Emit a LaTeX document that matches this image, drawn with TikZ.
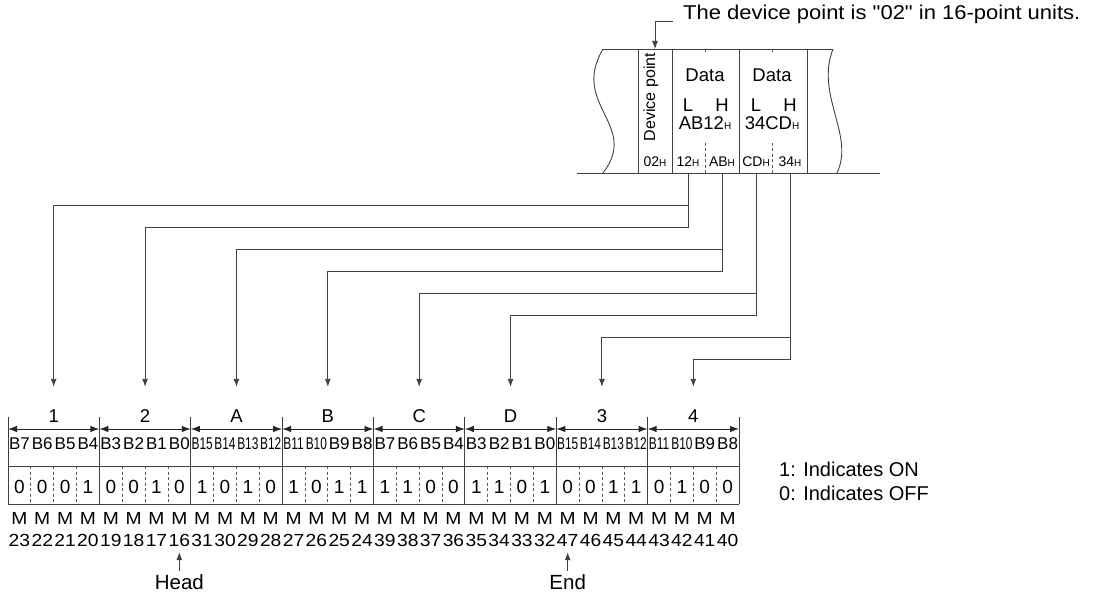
\documentclass[tikz,border=0pt]{standalone}
\usepackage{fontspec}
\usepackage{graphicx}
\setmainfont{Liberation Sans}
\newfontfamily\widefont[FakeStretch=1.1]{Liberation Sans}
\usetikzlibrary{arrows.meta,positioning}

% hex value with the small H suffix
\newcommand{\hx}[1]{#1{\fontsize{10}{10}\selectfont H}}
% narrow bit label (B15 ... B10)
\newcommand{\nb}[1]{\scalebox{0.7}[1]{#1}}

\tikzset{
  frame/.style={line width=0.9pt, black!75},
  link/.style={line width=0.9pt, black!75, -{Latex[length=8pt,width=6pt]}},
  span/.style={line width=0.9pt, black!85, {Latex[length=9pt,width=6.5pt]}-{Latex[length=9pt,width=6.5pt]}},
  sep/.style={line width=0.7pt, black!65, dash pattern=on 3pt off 2.5pt},
  txt/.style={inner sep=0pt, font=\fontsize{18.5}{18.5}\selectfont},
  small/.style={inner sep=0pt, font=\fontsize{14}{14}\selectfont},
  nib/.style={txt, text height=13pt, text depth=0pt},
  bitlab/.style={inner sep=0pt, font=\fontsize{17}{17}\selectfont},
  val/.style={inner sep=0pt, font=\fontsize{19}{19}\selectfont},
  mlab/.style={inner sep=0pt, font=\widefont\fontsize{17.5}{17.5}\selectfont, text height=12.5pt, text depth=0pt},
  mark text/.style={inner sep=0pt, font=\fontsize{20.5}{20.5}\selectfont},
}

\begin{document}
\begin{tikzpicture}[x=1pt, y=-1pt]

\useasboundingbox (0,0) rectangle (1094,593);

% upper table (memory image)
\draw[frame] (603,49) -- (833,49);
\draw[frame] (577,173) -- (880,173);
\draw[frame] (603,49) .. controls (570,105) and (640,125) .. (603,173);
\draw[frame] (833,49) .. controls (815,95) and (855,135) .. (837,173);
\draw[frame] (638,49) -- (638,173);
\draw[frame] (672,49) -- (672,173);
\draw[frame] (739,49) -- (739,173);
\draw[frame] (807,49) -- (807,173);
\draw[sep] (705,49) -- (705,54);
\draw[sep] (772,49) -- (772,54);
\draw[sep] (705,143) -- (705,173);
\draw[sep] (772,143) -- (772,173);

\coordinate (dptop) at (655,49);
\coordinate (rule) at (577,173);

\node[inner sep=0pt, rotate=90, font=\fontsize{16}{16}\selectfont] (devpt) at (651,97) {Device point};
\node[txt] (data1) at (705,75) {Data};
\node[txt] (data2) at (772,75) {Data};
\node[txt] (lo1) at (688,105) {L};
\node[txt] (hi1) at (722,105) {H};
\node[txt] (lo2) at (756,105) {L};
\node[txt] (hi2) at (790,105) {H};
\node[txt] (word1) at (705,123) {\hx{AB12}};
\node[txt] (word2) at (772,123) {\hx{34CD}};

\node[small] (c02) at (655,162) {\hx{02}};
\node[small] (c12) at (688,162) {\hx{12}};
\node[small] (cAB) at (722,162) {\hx{AB}};
\node[small] (cCD) at (756,162) {\hx{CD}};
\node[small] (c34) at (790,162) {\hx{34}};

\node[inner sep=0pt, anchor=base west, font=\widefont\fontsize{20}{20}\selectfont] (note) at (683,20) {The device point is "02" in 16-point units.};
\draw[link] ([xshift=-10pt, yshift=-1pt]note.base west) -| (dptop);

% lower table (bit devices)
\foreach \i in {0,...,8}
  \draw[frame] ({8+91.375*\i},417) -- ({8+91.375*\i},504);
\foreach \i in {0,...,7}
  \draw[span] ({8+91.375*\i},429) -- ({8+91.375*(\i+1)},429);
\draw[frame] (8,466) -- (739,466);
\draw[frame] (8,504) -- (739,504);
\foreach \k in {1,2,3,5,6,7,9,10,11,13,14,15,17,18,19,21,22,23,25,26,27,29,30,31}
  \draw[sep] ({8+22.84375*\k},466) -- ({8+22.84375*\k},504);

\foreach \lab [count=\i from 0] in {1,2,A,B,C,D,3,4}
  \node[nib] (n\lab) at ({8+91.375*(\i+0.5)},416) {\lab};

\foreach \bl/\v/\m [count=\k from 0] in {
    B7/0/23, B6/0/22, B5/0/21, B4/1/20,
    B3/0/19, B2/0/18, B1/1/17, B0/0/16,
    \nb{B15}/1/31, \nb{B14}/0/30, \nb{B13}/1/29, \nb{B12}/0/28,
    \nb{B11}/1/27, \nb{B10}/0/26, B9/1/25, B8/1/24,
    B7/1/39, B6/1/38, B5/0/37, B4/0/36,
    B3/1/35, B2/1/34, B1/0/33, B0/1/32,
    \nb{B15}/0/47, \nb{B14}/0/46, \nb{B13}/1/45, \nb{B12}/1/44,
    \nb{B11}/0/43, \nb{B10}/1/42, B9/0/41, B8/0/40} {
  \node[bitlab] (b\k) at ({8+22.84375*(\k+0.5)},444) {\bl};
  \node[val] (v\k) at ({8+22.84375*(\k+0.5)},487) {\v};
  \node[mlab] (m\k) at ({8+22.84375*(\k+0.5)},518) {M};
  \node[mlab] (mn\k) at ({8+22.84375*(\k+0.5)},540) {\m};
}

% byte data to bit groups
\draw[link, shorten >=22.5pt] (c12 |- rule) -- ++(0,32) -| (n1.north);
\draw[link, shorten >=22.5pt] (c12 |- rule) -- ++(0,54) -| (n2.north);
\draw[link, shorten >=22.5pt] (cAB |- rule) -- ++(0,76) -| (nA.north);
\draw[link, shorten >=22.5pt] (cAB |- rule) -- ++(0,98) -| (nB.north);
\draw[link, shorten >=22.5pt] (cCD |- rule) -- ++(0,120) -| (nC.north);
\draw[link, shorten >=22.5pt] (cCD |- rule) -- ++(0,142) -| (nD.north);
\draw[link, shorten >=22.5pt] (c34 |- rule) -- ++(0,164) -| (n3.north);
\draw[link, shorten >=22.5pt] (c34 |- rule) -- ++(0,186) -| (n4.north);

\node[mark text, below=28pt of mn7] (head) {Head};
\node[mark text, below=28pt of mn24] (end) {End};
\draw[link, shorten <=3.5pt, shorten >=5.75pt] (head.north) -- (mn7.south);
\draw[link, shorten <=3.5pt, shorten >=5.75pt] (end.north) -- (mn24.south);

\node[inner sep=0pt, anchor=west, font=\fontsize{20}{20}\selectfont] (on) at (779,469) {1: Indicates ON};
\node[inner sep=0pt, anchor=west, font=\fontsize{20}{20}\selectfont] (off) at (779,493) {0: Indicates OFF};

\end{tikzpicture}
\end{document}
